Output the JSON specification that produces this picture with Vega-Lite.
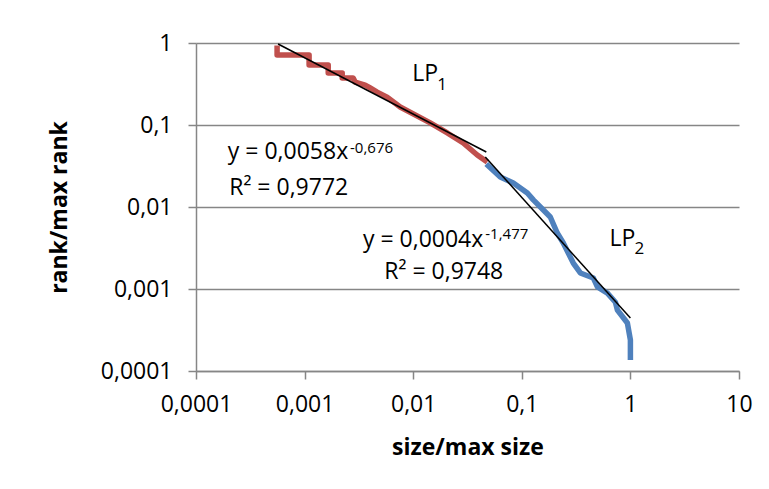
{
  "$schema": "https://vega.github.io/schema/vega-lite/v6.json",
  "width": 543,
  "height": 328,
  "autosize": {"type": "none"},
  "padding": {"left": 196, "top": 43, "right": 30, "bottom": 118},
  "background": "white",
  "config": {"view": {"stroke": null}, "font": "Open Sans"},
  "datasets": {
    "points": [
      {"i": 1, "series": "LP1", "x": 0.000558, "y": 0.93},
      {"i": 2, "series": "LP1", "x": 0.000558, "y": 0.714},
      {"i": 3, "series": "LP1", "x": 0.0011, "y": 0.714},
      {"i": 4, "series": "LP1", "x": 0.0011, "y": 0.539},
      {"i": 5, "series": "LP1", "x": 0.00165, "y": 0.539},
      {"i": 6, "series": "LP1", "x": 0.00165, "y": 0.431},
      {"i": 7, "series": "LP1", "x": 0.00222, "y": 0.431},
      {"i": 8, "series": "LP1", "x": 0.00222, "y": 0.374},
      {"i": 9, "series": "LP1", "x": 0.0028, "y": 0.374},
      {"i": 10, "series": "LP1", "x": 0.00292, "y": 0.334},
      {"i": 11, "series": "LP1", "x": 0.00361, "y": 0.307},
      {"i": 12, "series": "LP1", "x": 0.00402, "y": 0.283},
      {"i": 13, "series": "LP1", "x": 0.00466, "y": 0.252},
      {"i": 14, "series": "LP1", "x": 0.00575, "y": 0.219},
      {"i": 15, "series": "LP1", "x": 0.00759, "y": 0.166},
      {"i": 16, "series": "LP1", "x": 0.01435, "y": 0.106},
      {"i": 17, "series": "LP1", "x": 0.0206, "y": 0.0799},
      {"i": 18, "series": "LP1", "x": 0.0289, "y": 0.0603},
      {"i": 19, "series": "LP1", "x": 0.0389, "y": 0.0431},
      {"i": 20, "series": "LP1", "x": 0.0481, "y": 0.0354},
      {"i": 21, "series": "LP2", "x": 0.0471, "y": 0.0334},
      {"i": 22, "series": "LP2", "x": 0.0634, "y": 0.0232},
      {"i": 23, "series": "LP2", "x": 0.0835, "y": 0.0196},
      {"i": 24, "series": "LP2", "x": 0.1125, "y": 0.0148},
      {"i": 25, "series": "LP2", "x": 0.1277, "y": 0.0122},
      {"i": 26, "series": "LP2", "x": 0.158, "y": 0.00919},
      {"i": 27, "series": "LP2", "x": 0.183, "y": 0.00755},
      {"i": 28, "series": "LP2", "x": 0.212, "y": 0.00482},
      {"i": 29, "series": "LP2", "x": 0.241, "y": 0.00364},
      {"i": 30, "series": "LP2", "x": 0.298, "y": 0.00207},
      {"i": 31, "series": "LP2", "x": 0.346, "y": 0.00157},
      {"i": 32, "series": "LP2", "x": 0.456, "y": 0.00136},
      {"i": 33, "series": "LP2", "x": 0.497, "y": 0.00106},
      {"i": 34, "series": "LP2", "x": 0.614, "y": 0.00089},
      {"i": 35, "series": "LP2", "x": 0.728, "y": 0.00069},
      {"i": 36, "series": "LP2", "x": 0.759, "y": 0.000555},
      {"i": 37, "series": "LP2", "x": 0.938, "y": 0.000385},
      {"i": 38, "series": "LP2", "x": 1.0, "y": 0.000239},
      {"i": 39, "series": "LP2", "x": 1.0, "y": 0.000136}
    ],
    "trend": [
      {"fit": "LP1", "x": 0.00057, "y": 0.972},
      {"fit": "LP1", "x": 0.0471, "y": 0.0469},
      {"fit": "LP2", "x": 0.0461, "y": 0.0407},
      {"fit": "LP2", "x": 1.0, "y": 0.000443}
    ],
    "labels": [
      {"role": "main", "text": "y = 0,0058x", "x": 0.00252, "y": 0.0469},
      {"role": "script", "text": "-0,676", "x": 0.00262, "y": 0.0524},
      {"role": "main", "text": "R² = 0,9772", "x": 0.00252, "y": 0.01706},
      {"role": "main", "text": "y = 0,0004x", "x": 0.0442, "y": 0.00396},
      {"role": "script", "text": "-1,477", "x": 0.0461, "y": 0.00469},
      {"role": "main", "text": "R² = 0,9748", "x": 0.0675, "y": 0.00161},
      {"role": "main", "text": "LP", "x": 0.01698, "y": 0.419},
      {"role": "sub", "text": "1", "x": 0.01663, "y": 0.308},
      {"role": "main", "text": "LP", "x": 1.112, "y": 0.00407},
      {"role": "sub", "text": "2", "x": 1.089, "y": 0.00308}
    ]
  },
  "layer": [
    {
      "data": {"name": "points"},
      "mark": {"type": "line", "strokeWidth": 5.5, "strokeJoin": "round"},
      "encoding": {
        "x": {
          "field": "x", "type": "quantitative",
          "scale": {"type": "log", "domain": [0.0001, 10], "nice": false},
          "axis": {
            "values": [0.0001, 0.001, 0.01, 0.1, 1, 10],
            "labelExpr": "replace(format(datum.value, '~g'), '.', ',')",
            "grid": false,
            "domainColor": "#868686", "domainWidth": 1.5,
            "tickColor": "#868686", "tickWidth": 1.5, "tickSize": 8,
            "labelFontSize": 23, "labelColor": "#000000", "labelPadding": 14,
            "labelFlush": false, "labelOverlap": false,
            "title": "size/max size", "titleFontSize": 23, "titleFontWeight": "bold",
            "titleColor": "#000000", "titlePadding": 20
          }
        },
        "y": {
          "field": "y", "type": "quantitative",
          "scale": {"type": "log", "domain": [0.0001, 1], "nice": false},
          "axis": {
            "values": [0.0001, 0.001, 0.01, 0.1, 1],
            "labelExpr": "replace(format(datum.value, '~g'), '.', ',')",
            "grid": true, "gridColor": "#868686", "gridWidth": 1.5,
            "domainColor": "#868686", "domainWidth": 1.5,
            "tickColor": "#868686", "tickWidth": 1.5, "tickSize": 8,
            "labelFontSize": 23, "labelColor": "#000000", "labelPadding": 16,
            "labelFlush": false, "labelOverlap": false,
            "title": "rank/max rank", "titleFontSize": 23, "titleFontWeight": "bold",
            "titleColor": "#000000", "titlePadding": 29
          }
        },
        "color": {
          "field": "series", "type": "nominal",
          "scale": {"domain": ["LP1", "LP2"], "range": ["#C0504D", "#4F81BD"]},
          "legend": null
        },
        "order": {"field": "i", "type": "quantitative"}
      }
    },
    {
      "data": {"name": "trend"},
      "mark": {"type": "line", "strokeWidth": 1.5, "color": "#000000"},
      "encoding": {
        "x": {"field": "x", "type": "quantitative"},
        "y": {"field": "y", "type": "quantitative"},
        "detail": {"field": "fit", "type": "nominal"}
      }
    },
    {
      "data": {"name": "labels"},
      "transform": [{"filter": "datum.role == 'main'"}],
      "mark": {"type": "text", "align": "right", "baseline": "middle", "fontSize": 23, "color": "#000000"},
      "encoding": {
        "x": {"field": "x", "type": "quantitative"},
        "y": {"field": "y", "type": "quantitative"},
        "text": {"field": "text", "type": "nominal"}
      }
    },
    {
      "data": {"name": "labels"},
      "transform": [{"filter": "datum.role == 'script'"}],
      "mark": {"type": "text", "align": "left", "baseline": "middle", "fontSize": 15, "color": "#000000"},
      "encoding": {
        "x": {"field": "x", "type": "quantitative"},
        "y": {"field": "y", "type": "quantitative"},
        "text": {"field": "text", "type": "nominal"}
      }
    },
    {
      "data": {"name": "labels"},
      "transform": [{"filter": "datum.role == 'sub'"}],
      "mark": {"type": "text", "align": "left", "baseline": "middle", "fontSize": 17, "color": "#000000"},
      "encoding": {
        "x": {"field": "x", "type": "quantitative"},
        "y": {"field": "y", "type": "quantitative"},
        "text": {"field": "text", "type": "nominal"}
      }
    }
  ]
}
